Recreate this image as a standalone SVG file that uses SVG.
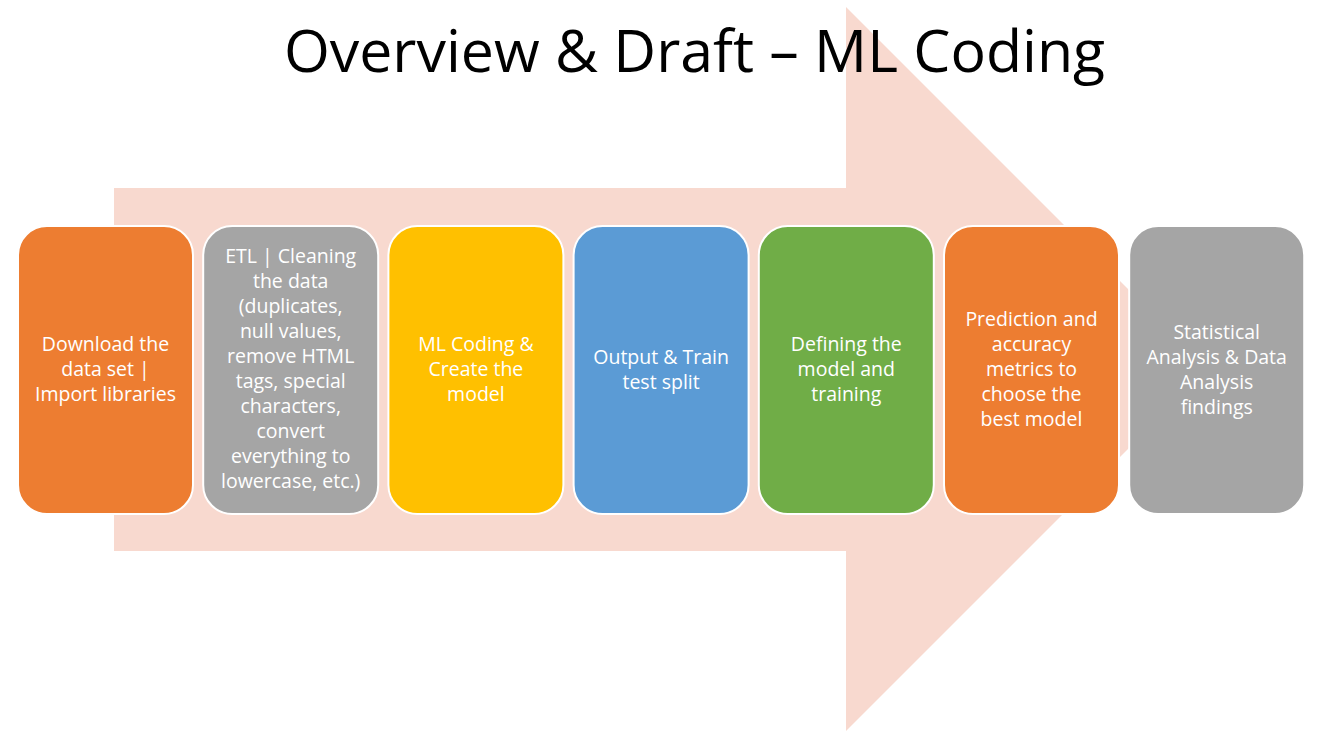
<svg xmlns="http://www.w3.org/2000/svg" width="1322" height="750" viewBox="0 0 1322 750">
<style>
.box{stroke:#FFFFFF;stroke-width:2}
.t{font-family:"Open Sans","Noto Sans","Liberation Sans",sans-serif;font-size:19.5px;fill:#FFFFFF;text-anchor:middle}
.title{font-family:"Open Sans","Noto Sans","Liberation Sans",sans-serif;font-size:59px;fill:#000000;text-anchor:middle}
</style>
<rect x="0" y="0" width="1322" height="750" fill="#FFFFFF"/>
<g id="connectors">
<polygon points="114,188 846,188 846,7 1208,369 846,731 846,551 114,551" fill="#F8D9CF"/>
</g>
<g id="title"><text class="title" x="694.5" y="72">Overview &amp; Draft – ML Coding</text></g>
<g id="n1"><rect class="box" x="18" y="226" width="175" height="288" rx="29" fill="#ED7D31"/>
<text class="t" x="105.5" y="351">Download the</text><text class="t" x="105.5" y="376">data set |</text><text class="t" x="105.5" y="401">Import libraries</text></g>
<g id="n2"><rect class="box" x="203.2" y="226" width="175" height="288" rx="29" fill="#A5A5A5"/>
<text class="t" x="290.7" y="263">ETL | Cleaning</text><text class="t" x="290.7" y="288">the data</text><text class="t" x="290.7" y="313">(duplicates,</text><text class="t" x="290.7" y="338">null values,</text><text class="t" x="290.7" y="363">remove HTML</text><text class="t" x="290.7" y="388">tags, special</text><text class="t" x="290.7" y="413">characters,</text><text class="t" x="290.7" y="438">convert</text><text class="t" x="290.7" y="463">everything to</text><text class="t" x="290.7" y="488">lowercase, etc.)</text></g>
<g id="n3"><rect class="box" x="388.4" y="226" width="175" height="288" rx="29" fill="#FFC000"/>
<text class="t" x="475.9" y="351">ML Coding &amp;</text><text class="t" x="475.9" y="376">Create the</text><text class="t" x="475.9" y="401">model</text></g>
<g id="n4"><rect class="box" x="573.6" y="226" width="175" height="288" rx="29" fill="#5B9BD5"/>
<text class="t" x="661.1" y="363.5">Output &amp; Train</text><text class="t" x="661.1" y="388.5">test split</text></g>
<g id="n5"><rect class="box" x="758.8" y="226" width="175" height="288" rx="29" fill="#70AD47"/>
<text class="t" x="846.3" y="351">Defining the</text><text class="t" x="846.3" y="376">model and</text><text class="t" x="846.3" y="401">training</text></g>
<g id="n6"><rect class="box" x="944" y="226" width="175" height="288" rx="29" fill="#ED7D31"/>
<text class="t" x="1031.5" y="326">Prediction and</text><text class="t" x="1031.5" y="351">accuracy</text><text class="t" x="1031.5" y="376">metrics to</text><text class="t" x="1031.5" y="401">choose the</text><text class="t" x="1031.5" y="426">best model</text></g>
<g id="n7"><rect class="box" x="1129.2" y="226" width="175" height="288" rx="29" fill="#A5A5A5"/>
<text class="t" x="1216.7" y="338.5">Statistical</text><text class="t" x="1216.7" y="363.5">Analysis &amp; Data</text><text class="t" x="1216.7" y="388.5">Analysis</text><text class="t" x="1216.7" y="413.5">findings</text></g>
</svg>
